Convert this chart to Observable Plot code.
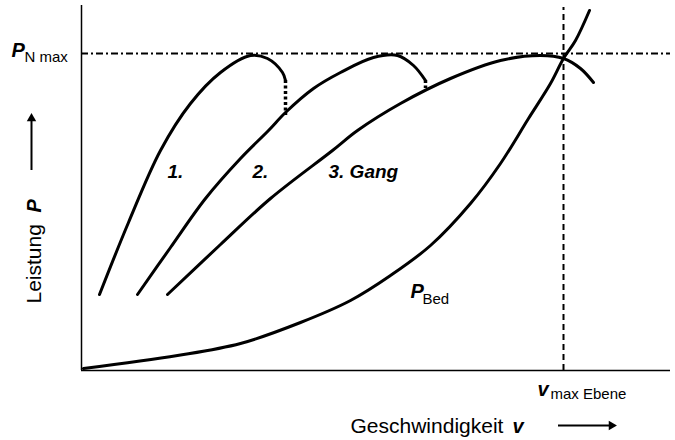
<!DOCTYPE html>
<html><head><meta charset="utf-8">
<script src="https://cdn.jsdelivr.net/npm/d3@7"></script>
<script src="https://cdn.jsdelivr.net/npm/@observablehq/plot@0.6"></script>
<style>body{margin:0;background:#fff}</style>
</head><body><div id="chart"></div>
<script>
// Speed v (arbitrary units) and power P (arbitrary units)
const gear1V = [18, 47, 79, 109, 139, 169, 186, 201, 204];
const gear1P = [76, 148, 220, 267, 298, 315, 312, 298, 290];
const gear2V = [56, 89, 124, 159, 187, 204, 232, 259, 292, 316, 332, 344];
const gear2P = [76, 123, 172, 212, 240, 258, 282, 298, 313, 315, 305, 290];
const gear3V = [86, 139, 189, 251, 276, 319, 369, 419, 459, 482, 499, 512];
const gear3P = [76, 126, 172, 220, 240, 267, 292, 310, 315, 312, 302, 288];
const bedV = [2, 96, 159, 219, 269, 309, 349, 389, 419, 447, 469, 482, 494, 508];
const bedP = [2, 15, 27, 48, 70, 95, 125, 167, 207, 252, 287, 312, 330, 360];
// gear-change drops (dotted)
const dropV = [204, 344];
const dropTop = [290, 290];
const dropBottom = [255, 282];
// reference levels
const pNmax = 317;
const vmaxEbene = 482;

const toRows = (V, P) => V.map((v, i) => ({v, P: P[i]}));
const gear1 = toRows(gear1V, gear1P);
const gear2 = toRows(gear2V, gear2P);
const gear3 = toRows(gear3V, gear3P);
const bed = toRows(bedV, bedP);
const drops = dropV.map((v, i) => ({v, y1: dropTop[i], y2: dropBottom[i]}));

const F = "Liberation Sans, Arial, Helvetica, sans-serif";
const bi = {fontWeight: "bold", fontStyle: "italic", fontSize: 20, textAnchor: "start", lineAnchor: "bottom", fill: "black", fontFamily: F};
const reg = (s) => ({fontSize: s, textAnchor: "start", lineAnchor: "bottom", fill: "black", fontFamily: F});

const lineOpt = {x: "v", y: "P", curve: "catmull-rom", stroke: "black", strokeWidth: 3, strokeLinecap: "round"};

const chart = Plot.plot({
  width: 675, height: 440,
  marginLeft: 81, marginRight: 5, marginTop: 5, marginBottom: 70,
  x: {domain: [0, 589], axis: null},
  y: {domain: [0, 365], axis: null},
  style: {fontFamily: F, background: "white", overflow: "visible"},
  marks: [
    Plot.ruleY([pNmax], {x1: 0, x2: 589, stroke: "black", strokeWidth: 2, strokeDasharray: "7,3,2,3"}),
    Plot.ruleX([vmaxEbene], {y1: 0, y2: 363, stroke: "black", strokeWidth: 2, strokeDasharray: "6,4"}),
    Plot.ruleX(drops, {x: "v", y1: "y1", y2: "y2", stroke: "black", strokeWidth: 3.5, strokeDasharray: "3,2.5"}),
    Plot.line(gear1, lineOpt),
    Plot.line(gear2, lineOpt),
    Plot.line(gear3, lineOpt),
    Plot.line(bed, lineOpt),
    Plot.ruleX([0], {y1: 0, y2: 365, stroke: "black", strokeWidth: 1.5}),
    Plot.ruleY([0], {x1: 0, x2: 589, stroke: "black", strokeWidth: 1.5}),
    // labels
    Plot.text(["P"], {x: -70, y: 314, ...bi}),
    Plot.text(["N max"], {x: -57, y: 309, ...reg(15)}),
    Plot.text(["1."], {x: 86, y: 193, ...bi, fontSize: 19}),
    Plot.text(["2."], {x: 171, y: 193, ...bi, fontSize: 19}),
    Plot.text(["3. Gang"], {x: 247, y: 193, ...bi, fontSize: 19}),
    Plot.text(["P"], {x: 329, y: 73, ...bi}),
    Plot.text(["Bed"], {x: 341, y: 67, ...reg(15)}),
    Plot.text(["v"], {x: 456, y: -25, ...bi}),
    Plot.text(["max Ebene"], {x: 469, y: -28, ...reg(15)}),
    Plot.text(["Geschwindigkeit"], {x: 269, y: -62, ...reg(21)}),
    Plot.text(["v"], {x: 431, y: -62, ...bi}),
    Plot.ruleY([-55], {x1: 477, x2: 528, stroke: "black", strokeWidth: 2}),
    Plot.dot([{v: 530, P: -55}], {x: "v", y: "P", symbol: "triangle2", r: 4.5, fill: "black", rotate: 90}),
    Plot.text(["Leistung"], {x: -41, y: 67, ...reg(21), rotate: -90}),
    Plot.text(["P"], {x: -41, y: 158, ...bi, rotate: -90}),
    Plot.ruleX([-50], {y1: 200, y2: 250, stroke: "black", strokeWidth: 2}),
    Plot.dot([{v: -50, P: 252}], {x: "v", y: "P", symbol: "triangle2", r: 4.5, fill: "black"})
  ]
});
document.getElementById("chart").appendChild(chart);
</script>
</body></html>
